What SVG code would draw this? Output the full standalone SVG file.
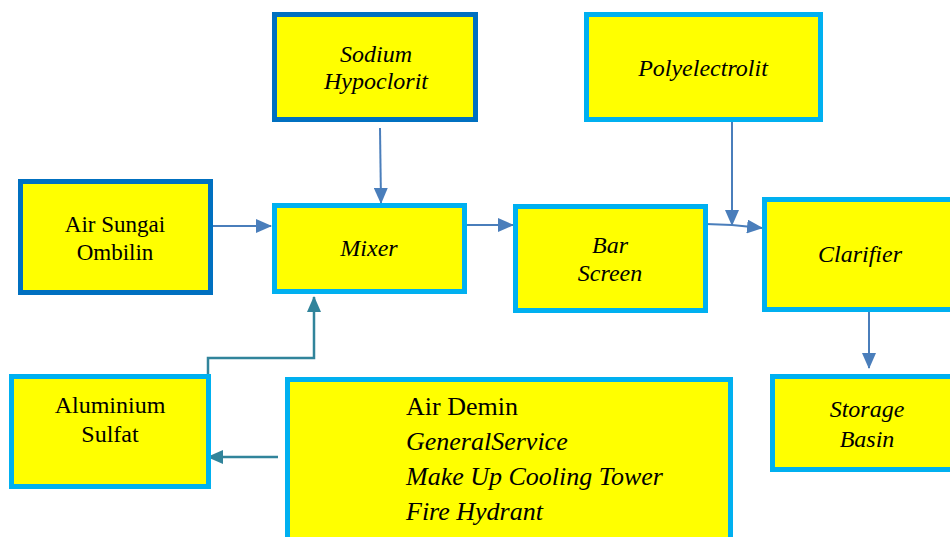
<svg xmlns="http://www.w3.org/2000/svg" width="950" height="537" viewBox="0 0 950 537">
<style>
.box{fill:#FFFF00;stroke-width:5}
.dk{stroke:#0070C0}
.lt{stroke:#00B0F0}
text{font-family:'Liberation Serif',Tinos,'Times New Roman',Times,'Nimbus Roman','DejaVu Serif',serif;fill:#000;text-anchor:middle}
.it{font-style:italic}
.l{text-anchor:start}
.c{fill:none;stroke:#4A7EBB;stroke-width:2}
.t{fill:none;stroke:#31849B;stroke-width:2.5}
</style>
<defs>
<marker id="ab" markerUnits="userSpaceOnUse" markerWidth="16" markerHeight="14" refX="15" refY="7" orient="auto"><path d="M0,0 L16,7 L0,14 Z" fill="#4A7EBB"/></marker>
<marker id="at" markerUnits="userSpaceOnUse" markerWidth="16" markerHeight="14" refX="15" refY="7" orient="auto"><path d="M0,0 L16,7 L0,14 Z" fill="#31849B"/></marker>
</defs>
<rect width="950" height="537" fill="#fff"/>
<g id="connectors">
<line class="c" x1="213" y1="226" x2="271" y2="226" marker-end="url(#ab)"/>
<line class="c" x1="380" y1="128" x2="381" y2="203" marker-end="url(#ab)"/>
<line class="c" x1="467" y1="225" x2="513" y2="225" marker-end="url(#ab)"/>
<line class="c" x1="732" y1="122" x2="732" y2="225" marker-end="url(#ab)"/>
<polyline class="c" points="706,224 732,225 762,228" marker-end="url(#ab)"/>
<line class="c" x1="869" y1="312" x2="869" y2="368" marker-end="url(#ab)"/>
<polyline class="t" points="208,419 208,358 314,358 314,297" marker-end="url(#at)"/>
<line class="t" x1="278" y1="457" x2="208" y2="457" marker-end="url(#at)"/>
</g>
<g id="sodium">
<rect class="box dk" x="274.5" y="14.5" width="201" height="105"/>
<text class="it" x="376" y="62" font-size="24">Sodium</text>
<text class="it" x="376" y="89" font-size="24">Hypoclorit</text>
</g>
<g id="air-sungai">
<rect class="box dk" x="20.5" y="181.5" width="190" height="111"/>
<text x="115" y="232" font-size="23">Air Sungai</text>
<text x="115" y="260" font-size="23">Ombilin</text>
</g>
<g id="mixer">
<rect class="box lt" x="274.5" y="205.5" width="190" height="86"/>
<text class="it" x="369" y="256" font-size="24">Mixer</text>
</g>
<g id="bar-screen">
<rect class="box lt" x="515.5" y="206.5" width="190" height="104"/>
<text class="it" x="610" y="253" font-size="24">Bar</text>
<text class="it" x="610" y="281" font-size="24">Screen</text>
</g>
<g id="polyelectrolit">
<rect class="box lt" x="586.5" y="14.5" width="234" height="105"/>
<text class="it" x="703" y="76" font-size="24">Polyelectrolit</text>
</g>
<g id="clarifier">
<rect class="box lt" x="764.5" y="199.5" width="195" height="110"/>
<text class="it" x="860" y="262" font-size="24">Clarifier</text>
</g>
<g id="storage-basin">
<rect class="box lt" x="772.5" y="376.5" width="190" height="93"/>
<text class="it" x="867" y="417" font-size="24">Storage</text>
<text class="it" x="867" y="447" font-size="24">Basin</text>
</g>
<g id="aluminium-sulfat">
<rect class="box lt" x="11.5" y="376.5" width="197" height="110"/>
<text x="110" y="413" font-size="24">Aluminium</text>
<text x="110" y="442" font-size="24">Sulfat</text>
</g>
<g id="uses">
<rect class="box lt" x="287.5" y="379.5" width="443" height="170"/>
<text class="l" x="406" y="415" font-size="26">Air Demin</text>
<text class="it l" x="406" y="450" font-size="26">GeneralService</text>
<text class="it l" x="406" y="485" font-size="26">Make Up Cooling Tower</text>
<text class="it l" x="406" y="520" font-size="26">Fire Hydrant</text>
</g>
</svg>
